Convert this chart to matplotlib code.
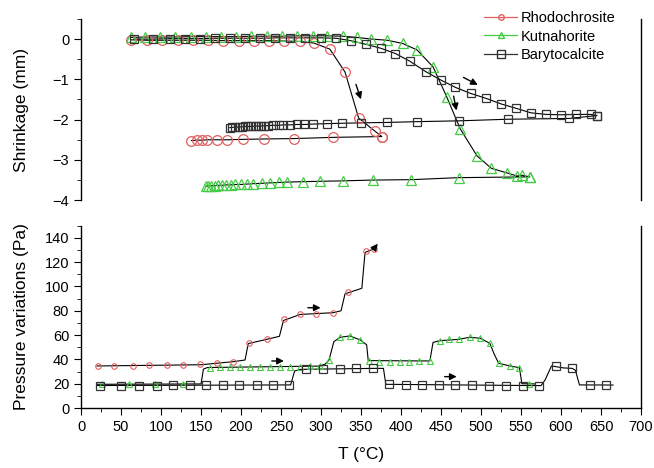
import matplotlib
matplotlib.use('Agg')
import matplotlib.pyplot as plt
from matplotlib.lines import Line2D
from matplotlib.ticker import MultipleLocator

plt.rcParams['font.family'] = ['Liberation Sans', 'DejaVu Sans']

# ---- top panel: shrinkage (mm), heating then cooling branch ----
rho_heat_t = [63, 82, 101, 121, 140, 159, 178, 197, 216, 235, 254, 274, 291, 311, 330, 347, 367, 376]
rho_heat_v = [-0.02, -0.03, -0.03, -0.03, -0.03, -0.03, -0.04, -0.04, -0.04, -0.04, -0.05, -0.06,
              -0.1, -0.25, -0.82, -1.96, -2.28, -2.42]
rho_cool_t = [376, 315, 266, 229, 202, 183, 170, 157, 151, 145, 138]
rho_cool_v = [-2.42, -2.44, -2.47, -2.48, -2.49, -2.5, -2.5, -2.5, -2.51, -2.51, -2.52]

kut_heat_t = [62, 80, 99, 118, 137, 156, 175, 194, 213, 232, 251, 270, 290, 308, 327, 345, 363,
              383, 402, 420, 440, 457, 474, 495, 513, 532, 545, 551, 561]
kut_heat_v = [0.04, 0.05, 0.05, 0.05, 0.06, 0.06, 0.06, 0.06, 0.07, 0.07, 0.07, 0.08, 0.08, 0.08,
              0.07, 0.04, 0.0, -0.03, -0.11, -0.27, -0.69, -1.43, -2.23, -2.9, -3.21, -3.32,
              -3.4, -3.38, -3.42]
kut_cool_t = [561, 472, 413, 365, 327, 299, 277, 258, 247, 236, 226, 215, 207, 200, 193, 187,
              181, 176, 171, 167, 163, 159, 156]
kut_cool_v = [-3.42, -3.44, -3.49, -3.5, -3.52, -3.53, -3.54, -3.55, -3.56, -3.57, -3.58, -3.59,
              -3.6, -3.61, -3.61, -3.62, -3.62, -3.63, -3.63, -3.64, -3.64, -3.65, -3.65]

bar_heat_t = [66, 90, 111, 130, 149, 168, 186, 205, 224, 243, 261, 280, 300, 319, 337, 356, 375,
              393, 411, 431, 450, 468, 487, 506, 525, 544, 562, 581, 600, 619, 637, 645]
bar_heat_v = [0.0, 0.0, 0.01, 0.01, 0.01, 0.02, 0.02, 0.02, 0.02, 0.03, 0.03, 0.03, 0.03, 0.02,
              -0.04, -0.13, -0.23, -0.36, -0.55, -0.81, -1.02, -1.2, -1.35, -1.47, -1.61, -1.72,
              -1.83, -1.87, -1.88, -1.87, -1.87, -1.9]
bar_cool_t = [645, 610, 534, 472, 420, 382, 350, 326, 307, 290, 279, 270, 261, 253, 247, 240,
              234, 229, 225, 221, 217, 213, 209, 205, 201, 197, 193, 189, 186]
bar_cool_v = [-1.9, -1.97, -1.99, -2.03, -2.05, -2.07, -2.08, -2.09, -2.1, -2.11, -2.12, -2.12,
              -2.13, -2.13, -2.14, -2.14, -2.15, -2.15, -2.16, -2.16, -2.16, -2.17, -2.17, -2.17,
              -2.18, -2.18, -2.19, -2.19, -2.2]

# ---- bottom panel: pressure variations (Pa) ----
rho_p_t = [21, 41, 65, 85, 107, 128, 149, 170, 190, 210, 232, 254, 274, 294, 315, 334, 356, 366]
rho_p_v = [34.6, 34.6, 34.8, 35.0, 35.2, 35.5, 35.8, 36.8, 38.1, 53.2, 56.5, 73.0, 77.0, 77.4,
           78.4, 95.2, 129.2, 130.9]
rho_line_t = [20, 150, 190, 205, 209, 232, 248, 253, 274, 315, 325, 330, 351, 355, 366]
rho_line_v = [34.6, 35.6, 38.1, 39.5, 53.0, 56.5, 59.0, 72.0, 77.0, 78.4, 80.0, 94.0, 98.5, 128.0, 131.0]

kut_p_t = [26, 60, 93, 127, 161, 174, 186, 199, 211, 224, 236, 249, 261, 274, 286, 299, 310,
           324, 336, 349, 360, 373, 386, 399, 410, 423, 436, 449, 460, 472, 486, 499, 511, 522,
           536, 548, 560]
kut_p_v = [19.5, 19.5, 19.6, 19.7, 33.3, 33.4, 33.5, 33.5, 33.6, 33.6, 33.7, 33.8, 33.9, 34.0,
           34.2, 34.5, 39.5, 58.2, 59.3, 56.0, 39.0, 38.1, 38.1, 38.1, 38.1, 38.7, 38.7, 55.4,
           56.5, 56.5, 58.2, 57.4, 53.2, 36.8, 34.6, 33.2, 19.8]
kut_line_t = [20, 150, 153, 158, 298, 305, 310, 316, 324, 336, 349, 357, 359, 436, 440, 449,
              472, 486, 499, 511, 516, 522, 536, 548, 551, 567]
kut_line_v = [19.5, 19.8, 32.0, 33.3, 34.5, 36.0, 39.5, 54.6, 58.2, 59.3, 56.0, 52.0, 39.0,
              38.7, 54.0, 55.4, 56.5, 58.2, 57.4, 53.2, 45.0, 36.8, 34.6, 33.2, 20.0, 19.8]

bar_p_t = [24, 50, 72, 95, 115, 136, 156, 177, 198, 220, 240, 260, 281, 303, 324, 344, 365, 385,
           406, 426, 447, 468, 489, 510, 531, 552, 573, 594, 614, 636, 656]
bar_p_v = [18.5, 18.5, 18.5, 18.5, 18.6, 18.6, 18.6, 18.7, 18.7, 18.7, 18.8, 18.9, 31.8, 31.8,
           32.4, 32.6, 32.6, 19.5, 18.9, 18.9, 18.9, 18.9, 18.6, 18.5, 18.5, 18.5, 18.5, 34.6,
           32.6, 18.9, 18.9]
bar_line_t = [20, 262, 267, 275, 365, 378, 381, 575, 580, 588, 603, 614, 618, 623, 665]
bar_line_v = [18.5, 19.0, 30.5, 31.8, 32.6, 32.6, 19.5, 18.4, 23.0, 34.6, 33.0, 32.6, 31.0, 19.0, 18.9]

red = '#e06060'
green = '#44cc44'
black = '#333333'

fig = plt.figure(figsize=(6.54, 4.68), dpi=100)
ax1 = fig.add_axes([0.1239, 0.5722, 0.8563, 0.3874])
ax2 = fig.add_axes([0.1239, 0.1282, 0.8563, 0.3895])

# top panel
for ht, hv, ct, cv, m, c, ms in [
        (rho_heat_t, rho_heat_v, rho_cool_t, rho_cool_v, 'o', red, 7),
        (kut_heat_t, kut_heat_v, kut_cool_t, kut_cool_v, '^', green, 6.5),
        (bar_heat_t, bar_heat_v, bar_cool_t, bar_cool_v, 's', black, 6)]:
    ax1.plot(ht + ct, hv + cv, '-', color='k', lw=0.8, zorder=2)
    ax1.plot(ht + ct, hv + cv, m, mfc='none', mec=c, ms=ms, mew=0.9, zorder=3)

arr = dict(arrowstyle='-|>', color='k', lw=1.0, mutation_scale=10)
ax1.annotate('', xy=(351, -1.56), xytext=(342.5, -1.06), arrowprops=arr)
ax1.annotate('', xy=(470, -1.84), xytext=(465, -1.35), arrowprops=arr)
ax1.annotate('', xy=(499, -1.17), xytext=(475, -0.92), arrowprops=arr)

ax1.set_xlim(0, 700)
ax1.set_ylim(-4, 0.5)
ax1.spines['top'].set_visible(False)
ax1.spines['bottom'].set_visible(False)
ax1.tick_params(axis='x', bottom=False, labelbottom=False)
ax1.yaxis.set_major_locator(MultipleLocator(1))
ax1.yaxis.set_minor_locator(MultipleLocator(0.5))
ax1.tick_params(axis='y', which='major', length=5, labelsize=10.5)
ax1.tick_params(axis='y', which='minor', length=3)
ax1.set_ylabel('Shrinkage (mm)', fontsize=12.5)
ax1.yaxis.set_label_coords(-0.093, 0.5)

handles = [Line2D([], [], color=red, marker='o', ms=4, mfc='none', lw=0.9),
           Line2D([], [], color=green, marker='^', ms=4, mfc='none', lw=0.9),
           Line2D([], [], color=black, marker='s', ms=6, mfc='none', lw=0.9)]
ax1.legend(handles, ['Rhodochrosite', 'Kutnahorite', 'Barytocalcite'], loc='upper left',
           bbox_to_anchor=(0.71, 1.075), frameon=False, fontsize=10.5, handlelength=2.2,
           handletextpad=0.3, labelspacing=0.3, borderaxespad=0)

# bottom panel
ax2.plot(rho_line_t, rho_line_v, '-', color='k', lw=0.8, zorder=2)
ax2.plot(rho_p_t, rho_p_v, 'o', mfc='none', mec=red, ms=4, mew=0.8, zorder=3)
ax2.plot(kut_line_t, kut_line_v, '-', color='k', lw=0.8, zorder=2)
ax2.plot(kut_p_t, kut_p_v, '^', mfc='none', mec=green, ms=4.5, mew=0.8, zorder=3)
ax2.plot(bar_line_t, bar_line_v, '-', color='k', lw=0.8, zorder=2)
ax2.plot(bar_p_t, bar_p_v, 's', mfc='none', mec=black, ms=6, mew=0.9, zorder=3)

ax2.annotate('', xy=(373, 137), xytext=(366, 131), arrowprops=arr)
ax2.annotate('', xy=(303, 82.5), xytext=(280, 82.5), arrowprops=arr)
ax2.annotate('', xy=(257, 38.7), xytext=(235, 38.7), arrowprops=arr)
ax2.annotate('', xy=(473, 25.8), xytext=(451, 25.8), arrowprops=arr)

ax2.set_xlim(0, 700)
ax2.set_ylim(0, 150)
ax2.spines['top'].set_visible(False)
ax2.xaxis.set_major_locator(MultipleLocator(50))
ax2.xaxis.set_minor_locator(MultipleLocator(25))
ax2.yaxis.set_major_locator(MultipleLocator(20))
ax2.yaxis.set_minor_locator(MultipleLocator(10))
ax2.set_yticks(range(0, 141, 20))
ax2.tick_params(which='major', length=5, labelsize=10.5)
ax2.tick_params(which='minor', length=3)
ax2.set_ylabel('Pressure variations (Pa)', fontsize=12.5)
ax2.yaxis.set_label_coords(-0.093, 0.5)
ax2.set_xlabel('T (°C)', fontsize=12.5)
ax2.xaxis.set_label_coords(0.5, -0.215)

for ax in (ax1, ax2):
    for s in ax.spines.values():
        s.set_linewidth(1.0)

fig.savefig('out.png', dpi=100)
